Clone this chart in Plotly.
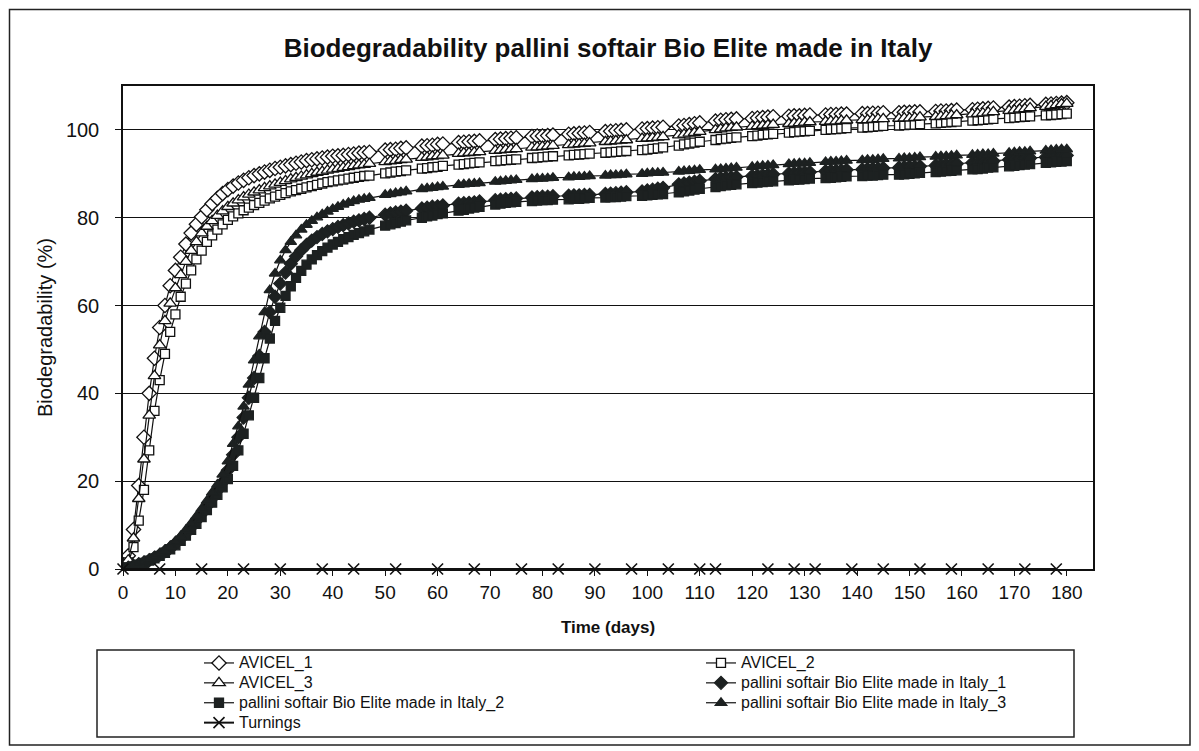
import plotly.graph_objects as go

# ---------------- data ----------------
days = [
    0, 1, 2, 3, 4, 5, 6, 7, 8, 9,
    10, 11, 12, 13, 14, 15, 16, 17, 18, 19,
    20, 21, 22, 23, 24, 25, 26, 27, 28, 29,
    30, 31, 32, 33, 34, 35, 36, 37, 38, 39,
    40, 41, 42,
    43, 44, 45, 46, 47,
    50, 51, 52, 53, 54,
    57, 58, 59, 60, 61,
    64, 65, 66, 67, 68,
    71, 72, 73, 74, 75,
    78, 79, 80, 81, 82,
    85, 86, 87, 88, 89,
    92, 93, 94, 95, 96,
    99, 100, 101, 102, 103,
    106, 107, 108, 109, 110,
    113, 114, 115, 116, 117,
    120, 121, 122, 123, 124,
    127, 128, 129, 130, 131,
    134, 135, 136, 137, 138,
    141, 142, 143, 144, 145,
    148, 149, 150, 151, 152,
    155, 156, 157, 158, 159,
    162, 163, 164, 165, 166,
    169, 170, 171, 172, 173,
    176, 177, 178, 179, 180,
]

avicel_1 = [
    0, 3, 9, 19, 30, 40, 48, 55, 60, 64.5,
    68, 71, 74, 76.5, 78.5, 80.2, 81.8, 83.2, 84.4, 85.5,
    86.4, 87.2, 87.9, 88.5, 89.1, 89.6, 90, 90.4, 90.8, 91.2,
    91.5, 91.8, 92.1, 92.4, 92.7, 93, 93.2, 93.4, 93.6, 93.8,
    94, 94.1, 94.2,
    94.4, 94.5, 94.7, 94.8, 94.9,
    95.4, 95.5, 95.6, 95.8, 95.9,
    96.3, 96.4, 96.5, 96.7, 96.8,
    97.1, 97.2, 97.3, 97.4, 97.5,
    97.8, 97.9, 98.0, 98.1, 98.2,
    98.5, 98.6, 98.6, 98.7, 98.8,
    99.0, 99.1, 99.2, 99.3, 99.4,
    99.6, 99.7, 99.8, 99.9, 100.0,
    100.2, 100.3, 100.4, 100.5, 100.6,
    100.9, 101.0, 101.2, 101.4, 101.6,
    102.0, 102.2, 102.3, 102.4, 102.5,
    102.6, 102.7, 102.8, 102.9, 103.0,
    103.1, 103.2, 103.2, 103.3, 103.4,
    103.4, 103.5, 103.5, 103.6, 103.6,
    103.7, 103.7, 103.8, 103.8, 103.9,
    103.9, 104.0, 104.0, 104.1, 104.1,
    104.2, 104.3, 104.3, 104.4, 104.5,
    104.6, 104.7, 104.8, 104.9, 105.0,
    105.2, 105.3, 105.4, 105.5, 105.6,
    105.8, 105.9, 106.0, 106.1, 106.2,
]

avicel_2 = [
    0, 1.5, 5, 11, 18, 27, 36, 43, 49, 54,
    58, 62, 65, 68, 70.5, 72.5, 74.5, 76, 77.3, 78.5,
    79.5, 80.3, 81, 81.7, 82.3, 82.9, 83.4, 83.9, 84.4, 84.8,
    85.2, 85.6, 86, 86.3, 86.6, 86.9, 87.2, 87.5, 87.8, 88.1,
    88.3, 88.5, 88.7,
    88.9, 89.1, 89.3, 89.5, 89.6,
    90.1, 90.3, 90.5, 90.6, 90.8,
    91.2, 91.3, 91.5, 91.6, 91.8,
    92.1, 92.2, 92.4, 92.5, 92.6,
    92.9, 93.0, 93.1, 93.2, 93.3,
    93.6, 93.7, 93.8, 93.9, 94.0,
    94.2, 94.3, 94.4, 94.5, 94.6,
    94.8, 94.9, 95.0, 95.1, 95.2,
    95.4, 95.5, 95.7, 95.8, 96.0,
    96.4, 96.7, 96.9, 97.1, 97.3,
    97.7, 97.9, 98.0, 98.2, 98.3,
    98.6, 98.7, 98.9, 99.0, 99.1,
    99.4, 99.5, 99.6, 99.7, 99.8,
    100.0, 100.1, 100.2, 100.3, 100.4,
    100.5, 100.6, 100.7, 100.8, 100.9,
    101.0, 101.1, 101.2, 101.2, 101.3,
    101.5, 101.6, 101.7, 101.8, 101.9,
    102.1, 102.2, 102.3, 102.4, 102.5,
    102.7, 102.8, 102.9, 103.0, 103.1,
    103.3, 103.4, 103.5, 103.6, 103.7,
]

avicel_3 = [
    0, 2, 7, 16, 25, 35, 44, 51, 56.5, 60.5,
    64, 67, 70, 72.5, 74.5, 76.5, 78, 79.3, 80.5, 81.5,
    82.5, 83.3, 84, 84.7, 85.3, 85.8, 86.3, 86.8, 87.2, 87.6,
    88, 88.4, 88.8, 89.1, 89.4, 89.7, 90, 90.3, 90.5, 90.8,
    91, 91.2, 91.4,
    91.6, 91.8, 92.0, 92.1, 92.3,
    92.7, 92.9, 93.0, 93.2, 93.3,
    93.7, 93.8, 94.0, 94.1, 94.2,
    94.6, 94.7, 94.8, 94.9, 95.0,
    95.3, 95.4, 95.5, 95.6, 95.7,
    96.0, 96.1, 96.2, 96.3, 96.4,
    96.6, 96.7, 96.8, 96.9, 97.0,
    97.3, 97.4, 97.5, 97.6, 97.7,
    98.0, 98.1, 98.2, 98.3, 98.4,
    98.8, 99.0, 99.2, 99.4, 99.6,
    100.0, 100.2, 100.4, 100.5, 100.6,
    100.8, 100.9, 101.0, 101.1, 101.2,
    101.4, 101.5, 101.6, 101.7, 101.8,
    101.9, 102.0, 102.0, 102.1, 102.2,
    102.3, 102.3, 102.4, 102.5, 102.5,
    102.6, 102.7, 102.7, 102.8, 102.9,
    103.0, 103.1, 103.2, 103.3, 103.4,
    103.6, 103.7, 103.8, 104.0, 104.1,
    104.4, 104.5, 104.7, 104.8, 105.0,
    105.3, 105.5, 105.7, 105.9, 106.0,
]

pallini_1 = [
    0, 0.3, 0.7, 1.1, 1.5, 2, 2.6, 3.2, 4, 4.8,
    5.8, 6.9, 8.1, 9.5, 11, 12.6, 14.3, 16.1, 17.9, 19.8,
    22.5, 26, 30, 34.5, 39, 43.5, 48.5, 54, 58.5, 62,
    65, 67.5, 69.5, 71.2, 72.6, 73.8, 74.8, 75.6, 76.3, 76.9,
    77.4, 77.9, 78.3,
    78.7, 79.1, 79.4, 79.7, 80.0,
    80.7, 81.0, 81.2, 81.4, 81.6,
    82.1, 82.3, 82.5, 82.6, 82.8,
    83.2, 83.3, 83.4, 83.5, 83.7,
    84.0, 84.1, 84.2, 84.3, 84.4,
    84.6, 84.7, 84.8, 84.8, 84.9,
    85.0, 85.1, 85.1, 85.2, 85.2,
    85.4, 85.5, 85.6, 85.7, 85.8,
    86.0, 86.2, 86.4, 86.6, 86.8,
    87.6, 87.8, 88.0, 88.2, 88.4,
    88.8, 89.0, 89.1, 89.2, 89.3,
    89.5, 89.6, 89.7, 89.8, 89.9,
    90.1, 90.2, 90.3, 90.3, 90.4,
    90.6, 90.7, 90.7, 90.8, 90.9,
    91.0, 91.1, 91.2, 91.2, 91.3,
    91.4, 91.5, 91.6, 91.6, 91.7,
    91.9, 92.0, 92.1, 92.2, 92.3,
    92.5, 92.6, 92.7, 92.8, 92.9,
    93.2, 93.3, 93.4, 93.5, 93.6,
    93.8, 93.9, 94.0, 94.1, 94.2,
]

pallini_2 = [
    0, 0.3, 0.6, 1, 1.4, 1.9, 2.4, 3, 3.7, 4.5,
    5.4, 6.4, 7.6, 8.9, 10.3, 11.8, 13.4, 15.1, 16.9, 18.6,
    20.5, 23.5, 27, 30.8, 35, 39, 43.5, 48, 52.5, 56.5,
    59.5, 62.2, 64.4, 66.3, 67.9, 69.3, 70.5, 71.5, 72.4, 73.2,
    73.9, 74.5, 75.1,
    75.6, 76.1, 76.5, 76.9, 77.3,
    78.2, 78.5, 78.8, 79.1, 79.4,
    80.0, 80.3, 80.5, 80.8, 81.0,
    81.6, 81.8, 82.1, 82.3, 82.5,
    83.0, 83.2, 83.4, 83.5, 83.6,
    83.8, 83.9, 84.0, 84.0, 84.1,
    84.2, 84.3, 84.3, 84.4, 84.5,
    84.6, 84.7, 84.7, 84.8, 84.9,
    85.0, 85.1, 85.2, 85.3, 85.4,
    85.8, 86.0, 86.2, 86.4, 86.6,
    87.0, 87.2, 87.4, 87.5, 87.6,
    87.9, 88.0, 88.1, 88.2, 88.3,
    88.5, 88.6, 88.7, 88.8, 88.9,
    89.0, 89.1, 89.2, 89.3, 89.4,
    89.5, 89.6, 89.6, 89.7, 89.8,
    89.8, 89.9, 90.0, 90.1, 90.2,
    90.4, 90.5, 90.6, 90.7, 90.8,
    91.0, 91.1, 91.2, 91.4, 91.5,
    91.7, 91.8, 92.0, 92.1, 92.2,
    92.5, 92.6, 92.7, 92.8, 92.9,
]

pallini_3 = [
    0, 0.4, 0.8, 1.2, 1.7, 2.2, 2.8, 3.5, 4.3, 5.2,
    6.3, 7.5, 8.9, 10.4, 12, 13.7, 15.5, 17.4, 19.2, 21.5,
    24.5, 28.5, 32.5, 37, 42, 47.5, 53, 58.5, 63.5, 67.3,
    70.3, 72.6, 74.5, 76, 77.3, 78.4, 79.3, 80.1, 80.8, 81.4,
    82, 82.5, 83,
    83.4, 83.8, 84.1, 84.3, 84.5,
    85.2, 85.4, 85.6, 85.8, 86.0,
    86.5, 86.7, 86.8, 87.0, 87.1,
    87.5, 87.6, 87.7, 87.8, 87.9,
    88.2, 88.3, 88.4, 88.5, 88.6,
    88.8, 88.9, 88.9, 89.0, 89.1,
    89.2, 89.3, 89.3, 89.4, 89.5,
    89.6, 89.7, 89.7, 89.8, 89.9,
    90.0, 90.1, 90.2, 90.2, 90.3,
    90.5, 90.6, 90.7, 90.8, 90.9,
    91.0, 91.1, 91.2, 91.3, 91.4,
    91.6, 91.7, 91.8, 91.9, 92.0,
    92.2, 92.3, 92.4, 92.4, 92.5,
    92.7, 92.8, 92.8, 92.9, 93.0,
    93.1, 93.2, 93.2, 93.3, 93.4,
    93.5, 93.6, 93.6, 93.7, 93.8,
    93.9, 94.0, 94.0, 94.1, 94.2,
    94.3, 94.4, 94.5, 94.5, 94.6,
    94.8, 94.9, 95.0, 95.0, 95.1,
    95.3, 95.4, 95.5, 95.6, 95.6,
]

turnings_days = [0, 7, 15, 23, 30, 38, 44, 52, 60, 67, 76, 83, 90, 97, 104,
                 110, 113, 123, 128, 132, 139, 145, 152, 158, 165, 172, 178]
turnings = [0, 0, 0, 0, 0, 0, 0, 0, 0, 0, 0, 0, 0, 0, 0,
            0, 0, 0, 0, 0, 0, 0, 0, 0, 0, 0, 0]

y_ticks = [0, 20, 40, 60, 80, 100]
x_ticks = [0, 10, 20, 30, 40, 50, 60, 70, 80, 90, 100, 110, 120, 130, 140, 150,
           160, 170, 180]

title_text = "Biodegradability pallini softair Bio Elite made in Italy"
x_title = "Time (days)"
y_title = "Biodegradability (%)"

# ---------------- styling ----------------
FONT = "Liberation Sans, Arial, sans-serif"
INK = "#111111"
DARK = "#1d2121"
LEG_TXT = 'font-size:16px'


def lname(s):
    return '<span style="%s">%s</span>' % (LEG_TXT, s)


series = [
    ("AVICEL_1", days, avicel_1, "diamond", 11, "white", "legend"),
    ("AVICEL_2", days, avicel_2, "square", 9, "white", "legend2"),
    ("AVICEL_3", days, avicel_3, "triangle-up", 11, "white", "legend"),
    ("pallini softair Bio Elite made in Italy_1", days, pallini_1, "diamond", 10, DARK, "legend2"),
    ("pallini softair Bio Elite made in Italy_2", days, pallini_2, "square", 9, DARK, "legend"),
    ("pallini softair Bio Elite made in Italy_3", days, pallini_3, "triangle-up", 10, DARK, "legend2"),
]

fig = go.Figure()
for name, xs, ys, sym, size, fill, leg in series:
    fig.add_trace(go.Scatter(
        x=xs, y=ys, name=lname(name), mode="lines+markers",
        line=dict(color=INK, width=1.2),
        marker=dict(symbol=sym, size=size, color=fill,
                    line=dict(color=INK if fill == "white" else DARK, width=1.3)),
        legend=leg,
    ))

fig.add_trace(go.Scatter(
    x=turnings_days, y=turnings, name=lname("Turnings"), mode="lines+markers",
    line=dict(color=INK, width=2),
    marker=dict(symbol="x-thin", size=11, color=INK, line=dict(color=INK, width=1.6)),
    legend="legend", cliponaxis=False,
))

# The page body adds an 8 px offset; target page coordinates are converted.
OFF = 8
FIG_W, FIG_H = 1199 - OFF, 751 - OFF
# plot area on the page: x 123..1093, y 86..569
L, R, T, B = 123 - OFF, 1093 - OFF, 86 - OFF, 569 - OFF
W, H = R - L, B - T


def px(xp):
    return (xp - OFF - L) / W


def py(yp):
    return (B - (yp - OFF)) / H


fig.update_layout(
    width=FIG_W, height=FIG_H,
    margin=dict(l=L, r=FIG_W - R, t=T, b=FIG_H - B, autoexpand=False),
    paper_bgcolor="white", plot_bgcolor="white",
    font=dict(family=FONT, color="#000000"),
    title=dict(text="<b>%s</b>" % title_text, x=(608 - OFF) / FIG_W, xanchor="center",
               y=1 - (48 - OFF) / FIG_H, yanchor="middle",
               font=dict(family=FONT, size=26, color="#111111")),
    showlegend=True,
    legend=dict(x=px(199), y=py(648), xanchor="left", yanchor="top",
                orientation="v", bgcolor="rgba(0,0,0,0)", borderwidth=0,
                font=dict(family=FONT, size=13, color="#111111")),
    legend2=dict(x=px(701), y=py(648), xanchor="left", yanchor="top",
                 orientation="v", bgcolor="rgba(0,0,0,0)", borderwidth=0,
                 font=dict(family=FONT, size=13, color="#111111")),
    shapes=[
        # outer chart frame (kept just inside the figure edge)
        dict(type="rect", xref="paper", yref="paper",
             x0=px(OFF + 1.5), x1=px(1190), y0=py(745), y1=py(OFF + 1.5),
             line=dict(color="#222222", width=1.5), layer="below"),
        # legend frame
        dict(type="rect", xref="paper", yref="paper",
             x0=px(97), x1=px(1074), y0=py(737), y1=py(650),
             line=dict(color="#222222", width=1.5), layer="below"),
    ],
)

fig.update_xaxes(
    range=[0, 185], tickvals=x_ticks, ticktext=[str(v) for v in x_ticks],
    showgrid=False, zeroline=False,
    showline=True, linecolor=INK, linewidth=1.5, mirror=True,
    ticks="outside", ticklen=5, tickcolor=INK, tickwidth=1,
    tickfont=dict(family=FONT, size=19, color="#111111"),
    title=dict(text="<b>%s</b>" % x_title, standoff=20,
               font=dict(family=FONT, size=17, color="#111111")),
)
fig.update_yaxes(
    range=[0, 110], tickvals=y_ticks, ticktext=[str(v) for v in y_ticks],
    showgrid=True, gridcolor=INK, gridwidth=1, zeroline=False,
    showline=True, linecolor=INK, linewidth=1.5, mirror=True,
    ticks="outside", ticklen=6, tickcolor=INK, tickwidth=1,
    ticklabelstandoff=12,
    tickfont=dict(family=FONT, size=20, color="#111111"),
    title=dict(text=y_title, standoff=8,
               font=dict(family=FONT, size=20, color="#111111")),
)

fig.write_html("out.html")
